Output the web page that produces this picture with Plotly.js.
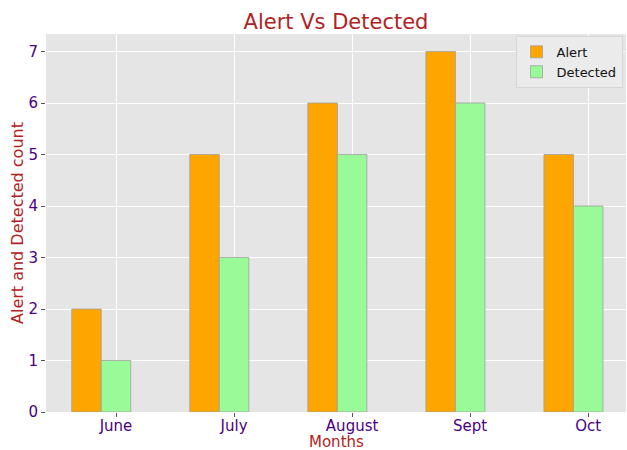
<!DOCTYPE html>
<html>
<head>
<meta charset="utf-8">
<script src="https://cdn.plot.ly/plotly-3.0.1.min.js"></script>
<style>html,body{margin:0;padding:0;background:#fff;}#chart{width:627px;height:450px;}</style>
</head>
<body>
<div id="chart"></div>
<script>
const months = ["June", "July", "August", "Sept", "Oct"];
const alertCounts = [2, 5, 6, 7, 5];
const detectedCounts = [1, 3, 5, 6, 4];
const barWidth = 0.25;

const idx = months.map((m, i) => i);
const font = "DejaVu Sans, sans-serif";

const traces = [
  {
    type: "bar", name: "Alert",
    x: idx.map(i => i - barWidth), y: alertCounts, width: barWidth,
    marker: {color: "#FFA500", line: {color: "#a0a0a0", width: 0.8}},
    hoverinfo: "y"
  },
  {
    type: "bar", name: "Detected",
    x: idx, y: detectedCounts, width: barWidth,
    marker: {color: "#98FB98", line: {color: "#a0a0a0", width: 0.8}},
    hoverinfo: "y"
  }
];

const layout = {
  width: 627, height: 450,
  margin: {l: 46, r: 1, t: 34, b: 38},
  paper_bgcolor: "#ffffff",
  plot_bgcolor: "#e5e5e5",
  barmode: "overlay",
  font: {family: font},
  title: {text: "Alert Vs Detected", font: {family: font, size: 21, color: "#b22222"}, xref: "paper", x: 0.5, xanchor: "center", yref: "container", y: 0.953, yanchor: "middle"},
  xaxis: {
    range: [-0.593, 4.32],
    tickmode: "array", tickvals: idx, ticktext: months,
    tickfont: {family: font, size: 15, color: "#4b0082"},
    ticks: "outside", ticklen: 4, tickcolor: "#555", tickwidth: 1,
    ticklabelstandoff: -4,
    showgrid: true, gridcolor: "#ffffff", gridwidth: 1,
    zeroline: false, showline: false
  },
  yaxis: {
    range: [0, 7.34],
    tickmode: "array", tickvals: [0,1,2,3,4,5,6,7],
    tickfont: {family: font, size: 15, color: "#4b0082"},
    ticks: "outside", ticklen: 4, tickcolor: "#555", tickwidth: 1,
    showgrid: true, gridcolor: "#ffffff", gridwidth: 1,
    zeroline: false, showline: false
  },
  annotations: [
    {text: "Months", xref: "paper", yref: "paper", x: 0.5, y: -0.079, xanchor: "center", yanchor: "middle",
     borderpad: 0, showarrow: false, font: {family: font, size: 15, color: "#b22222"}},
    {text: "Alert and Detected count", xref: "paper", yref: "paper", x: -0.05, y: 0.5, xanchor: "center", yanchor: "middle",
     borderpad: 0, textangle: -90, showarrow: false, font: {family: font, size: 16, color: "#b22222"}}
  ],
  legend: {
    x: 0.994, y: 0.995, xanchor: "right", yanchor: "top",
    bgcolor: "#ebebeb", bordercolor: "#d6d6d6", borderwidth: 1,
    font: {family: font, size: 13, color: "#111"},
    tracegroupgap: 0
  },
  showlegend: true
};

Plotly.newPlot("chart", traces, layout, {displayModeBar: false, staticPlot: true});
</script>
</body>
</html>
